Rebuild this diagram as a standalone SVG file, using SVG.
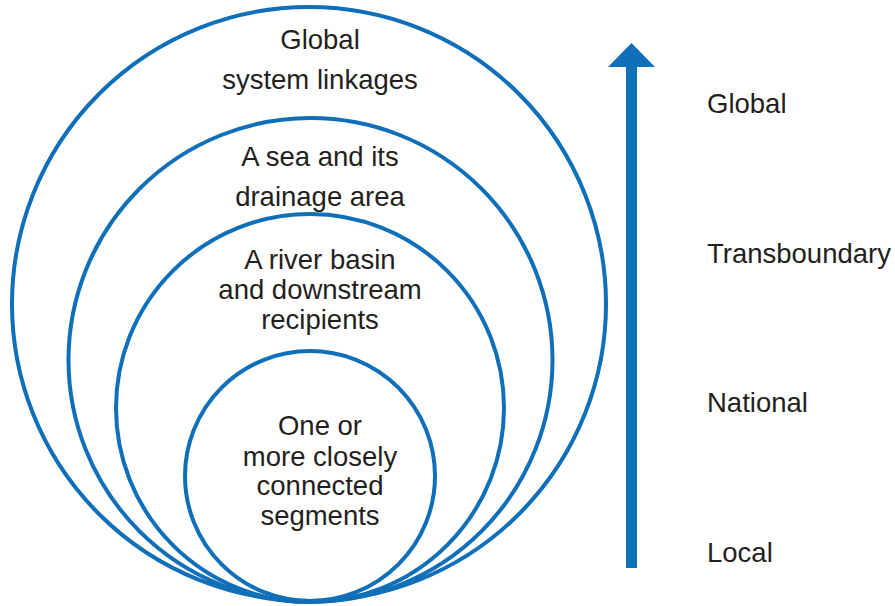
<svg xmlns="http://www.w3.org/2000/svg" width="895" height="606" viewBox="0 0 895 606">
<style>
.ring{fill:none;stroke:#0f6fb8;stroke-width:4}
.t{font-family:"Liberation Sans",Arial,sans-serif;font-size:27.5px;fill:#231f20}
.c{text-anchor:middle}
</style>
<rect width="895" height="606" fill="#ffffff"/>
<g id="global-ring">
<circle class="ring" cx="309" cy="304" r="297"/>
<text class="t c" x="320" y="49">Global</text>
<text class="t c" x="320" y="89">system linkages</text>
</g>
<g id="sea-ring">
<circle class="ring" cx="310.5" cy="360" r="242"/>
<text class="t c" x="320" y="166">A sea and its</text>
<text class="t c" x="320" y="206">drainage area</text>
</g>
<g id="river-ring">
<circle class="ring" cx="310" cy="408" r="194"/>
<text class="t c" x="320" y="269">A river basin</text>
<text class="t c" x="320" y="299">and downstream</text>
<text class="t c" x="320" y="329">recipients</text>
</g>
<g id="local-ring">
<circle class="ring" cx="310" cy="476" r="125"/>
<text class="t c" x="320" y="435">One or</text>
<text class="t c" x="320" y="466">more closely</text>
<text class="t c" x="320" y="495">connected</text>
<text class="t c" x="320" y="525">segments</text>
</g>
<g id="connectors">
<rect x="626" y="64" width="11" height="504" fill="#0f6fb8"/>
<polygon points="631.5,43 608,67 655,67" fill="#0f6fb8"/>
</g>
<g id="scale-labels">
<text class="t" x="707" y="113">Global</text>
<text class="t" x="707" y="263">Transboundary</text>
<text class="t" x="707" y="412">National</text>
<text class="t" x="707" y="562">Local</text>
</g>
</svg>
